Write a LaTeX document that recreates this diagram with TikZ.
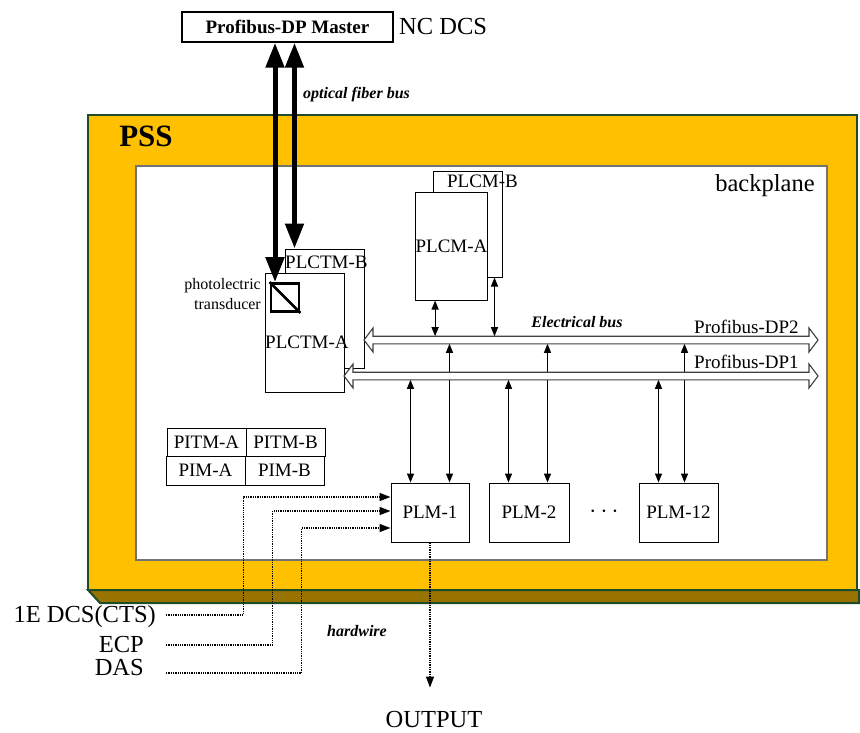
\documentclass[tikz,border=0pt]{standalone}
\usepackage{fontspec}
\setmainfont{Liberation Serif}
\usetikzlibrary{arrows.meta, positioning}

\definecolor{pssyellow}{RGB}{255,192,0}
\definecolor{pssdark}{RGB}{153,115,0}
\definecolor{pssgreen}{RGB}{30,75,40}

\begin{document}
\begin{tikzpicture}[x=1pt, y=-1pt,
  txt/.style={font=\fontsize{19}{22}\selectfont, inner sep=0},
  big/.style={font=\fontsize{24.5}{28}\selectfont, inner sep=0},
  emph/.style={font=\fontsize{16}{19}\selectfont\bfseries\itshape, inner sep=0},
  module/.style={draw, fill=white, line width=1pt, inner sep=0, font=\fontsize{19}{22}\selectfont},
  fiber/.style={line width=5pt, {Triangle[length=25pt,width=18pt]}-{Triangle[length=25pt,width=18pt]}},
  tap/.style={line width=1.2pt, {Triangle[length=9pt,width=7pt]}-{Triangle[length=9pt,width=7pt]}},
  wire/.style={densely dotted, line width=1.3pt, -{Triangle[length=11pt,width=8pt]}},
  bus/.style={draw=black!75, fill=white, line width=1.1pt}]
  \useasboundingbox (0,0) rectangle (860,733);

  % PSS cabinet
  \draw[fill=pssdark, draw=pssgreen, line width=2pt] (88,590) -- (100,603) -- (859,603) -- (859,590) -- cycle;
  \draw[fill=pssyellow, draw=pssgreen, line width=2.5pt] (88,115) rectangle (857,590);
  \node[font=\fontsize{31}{34}\selectfont\bfseries, inner sep=0] (pss) at (146,136) {PSS};
  \draw[fill=white, draw=black!55, line width=1.2pt] (136,166) rectangle (827,560);
  \node[big] (bp) at (765,186) {backplane};

  % master
  \node[draw, line width=1.5pt, minimum width=211pt, minimum height=30pt, inner sep=0,
        font=\fontsize{19}{22}\selectfont\bfseries] (master) at (287.5,27) {Profibus-DP Master};
  \node[big, anchor=west] (nc) at (399,27) {NC DCS};
  \node[emph, anchor=west] (ofb) at (303,95) {optical fiber bus};

  % communication modules
  \node[module, minimum width=79pt, minimum height=119pt] (plctmB) at (324.5,308.5) {};
  \node[txt, anchor=west] at (285,262) {PLCTM-B};
  \node[module, minimum width=79pt, minimum height=119pt] (plctmA) at (304.5,332.5) {};
  \node[txt, anchor=west] at (265,342) {PLCTM-A};
  \node[draw, line width=2.8pt, minimum size=28pt, inner sep=0] (trans) at (285,297.5) {};
  \draw[line width=2.5pt] (trans.north west) -- (trans.south east);
  \node[font=\fontsize{16}{20}\selectfont, align=right, anchor=east, inner sep=0] (pt) at (261,294) {photolectric\\transducer};

  \node[module, minimum width=69pt, minimum height=105pt] (plcmB) at (467.5,224.5) {};
  \node[txt] at (482.5,181) {PLCM-B};
  \node[module, minimum width=71pt, minimum height=107pt] (plcmA) at (451.5,246.5) {PLCM-A};

  % PLM modules
  \node[module, minimum width=78pt, minimum height=59pt] (plm1) at (430,512.5) {PLM-1};
  \node[module, minimum width=80pt, minimum height=59pt] (plm2) at (529,512.5) {PLM-2};
  \node[module, minimum width=79pt, minimum height=59pt] (plm12) at (678.5,512.5) {PLM-12};
  \node[font=\fontsize{30}{30}\selectfont, inner sep=0] (dots) at (604,512) {$\cdots$};

  % bus coordinates
  \coordinate (dp2n) at (0,336.2);
  \coordinate (dp2s) at (0,343.8);
  \coordinate (dp1n) at (0,372.2);
  \coordinate (dp1s) at (0,379.8);

  \coordinate (cA) at ([xshift=20pt]plcmA.south west);
  \coordinate (cB) at ([xshift=-8pt]plcmB.south east);
  \draw[tap] (cA) -- (cA |- dp2n);
  \draw[tap] (cB) -- (cB |- dp2n);
  \foreach \m/\s in {plm1/59, plm2/59, plm12/46} {
    \coordinate (\m-a) at ([xshift=20pt]\m.north west);
    \coordinate (\m-b) at ([xshift=\s pt]\m.north west);
    \draw[tap] (\m-a) -- (\m-a |- dp1s);
    \draw[tap] (\m-b) -- (\m-b |- dp2s);
  }

  % electrical buses
  \foreach \l/\y in {364/340, 344/376} {
    \draw[bus] (\l,\y) -- (\l+9,\y-12) -- (\l+9,\y-3.8) -- (809,\y-3.8) -- (809,\y-12)
      -- (818,\y) -- (809,\y+12) -- (809,\y+3.8) -- (\l+9,\y+3.8) -- (\l+9,\y+12) -- cycle;
  }
  \node[emph] (eb) at (577,322) {Electrical bus};
  \node[txt, anchor=west] (dp2) at (694,327) {Profibus-DP2};
  \node[txt, anchor=west] (dp1) at (694,362) {Profibus-DP1};

  % fiber links
  \coordinate (fL) at ([xshift=-10pt]trans.north);
  \coordinate (fR) at ([xshift=10pt]plctmB.north west);
  \draw[fiber] (fL) -- (fL |- master.south);
  \draw[fiber] (fR) -- (fR |- master.south);

  % interface modules
  \node[module, minimum width=79pt, minimum height=28pt] (pitmA) at (206.5,442) {PITM-A};
  \node[module, minimum width=79pt, minimum height=28pt] (pitmB) at (285.5,442) {PITM-B};
  \node[module, minimum width=79pt, minimum height=29pt] (pimA) at (205.5,470.5) {PIM-A};
  \node[module, minimum width=79pt, minimum height=29pt] (pimB) at (284.5,470.5) {PIM-B};

  % hardwire signals
  \node[big, anchor=east] (cts) at (156,617) {1E DCS(CTS)};
  \node[big, anchor=east] (ecp) at (144,645) {ECP};
  \node[big, anchor=east] (das) at (144,668) {DAS};
  \node[emph] (hw) at (357,631) {hardwire};
  \node[big] (out) at (434,720) {OUTPUT};
  \coordinate (in1) at ([yshift=15.5pt]plm1.west);
  \coordinate (in2) at ([yshift=1.5pt]plm1.west);
  \coordinate (in3) at ([yshift=-15.5pt]plm1.west);
  \draw[wire] ([xshift=10pt,yshift=2pt]cts.east) -| ([xshift=-147pt]in1) -- (in1);
  \draw[wire] ([xshift=22pt]ecp.east) -| ([xshift=-118pt]in2) -- (in2);
  \draw[wire] ([xshift=22pt,yshift=-5pt]das.east) -| ([xshift=-89pt]in3) -- (in3);
  \draw[wire] (plm1.south) -- (plm1.south |- out.north) [shorten >=24pt];
\end{tikzpicture}
\end{document}
